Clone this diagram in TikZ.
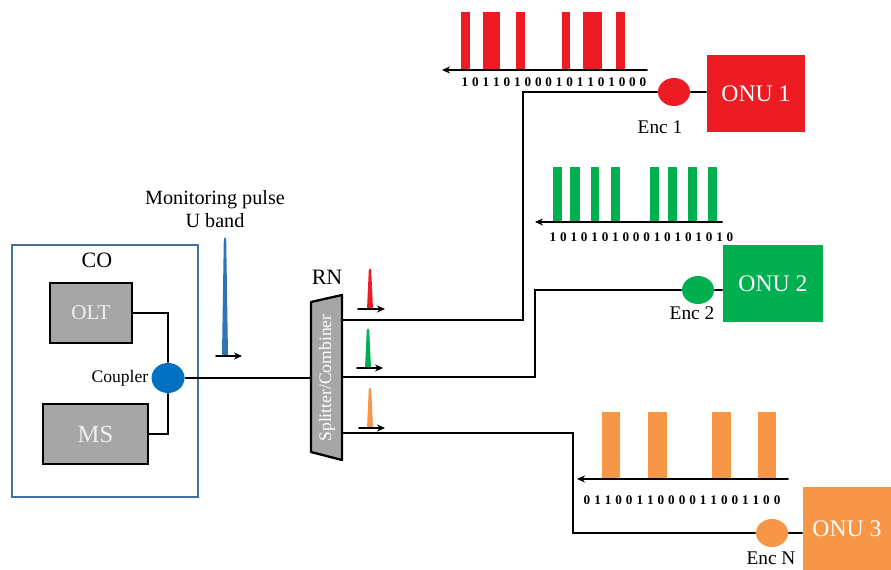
\documentclass[tikz,border=0pt]{standalone}
\usepackage{fontspec}
\setmainfont{Liberation Serif}
\usepackage{tikz}
\usetikzlibrary{arrows.meta,shapes.geometric,positioning}
\usepackage{xcolor}
\definecolor{onured}{RGB}{237,28,36}
\definecolor{onugreen}{RGB}{0,176,80}
\definecolor{onuorange}{RGB}{247,150,70}
\definecolor{cplblue}{RGB}{0,112,192}
\definecolor{pulseblue}{RGB}{46,117,182}
\definecolor{coframe}{RGB}{65,113,156}
\definecolor{boxgray}{RGB}{166,166,166}
\tikzset{
  unit/.style={draw=black,line width=1.3pt,fill=boxgray,text=gray!12,font=\fontsize{12}{14}\selectfont},
  onu/.style={minimum width=1.96cm,minimum height=1.54cm,text=white,font=\fontsize{13.5}{16}\selectfont},
  enc/.style={ellipse,minimum width=0.64cm,minimum height=0.56cm,inner sep=0pt},
  bits/.style={font=\fontsize{7.5}{8}\selectfont\bfseries,inner sep=0pt},
  lbl/.style={font=\fontsize{11}{13}\selectfont,inner sep=1pt}
}
\newcommand\spike[4]{\fill[#4] (#1-3,#3) -- (#1-1.2,#2+2) .. controls (#1-1.2,#2) and (#1+1.2,#2) .. (#1+1.2,#2+2) -- (#1+3,#3) -- cycle;}
\newcommand\bitrow[5]{\foreach \b [count=\i from 0] in {#4} \node[bits] (#5\i) at (#1+\i*#2,#3) {\b};}

\begin{document}
\begin{tikzpicture}[x=0.02cm,y=-0.02cm,>={Stealth[length=1.6mm,width=1.4mm]},line cap=round,line width=0.9pt]
\useasboundingbox (0,0) rectangle (891,570);
\node[draw=coframe,line width=1.2pt,minimum width=3.72cm,minimum height=5.04cm] (co) at (105,371) {};
\node[lbl,font=\fontsize{12.5}{14}\selectfont] (colbl) at (97,260) {CO};
\node[unit,minimum width=1.64cm,minimum height=1.2cm] (olt) at (91,313) {OLT};
\node[unit,minimum width=2.1cm,minimum height=1.2cm,font=\fontsize{14}{16}\selectfont] (ms) at (95.5,434) {MS};
\node[enc,fill=cplblue,minimum width=0.66cm,minimum height=0.6cm] (cpl) at (168,378) {};
\node[lbl,font=\fontsize{10}{12}\selectfont,left=0pt of cpl] (cpllbl) {Coupler};
\draw (olt) -| (cpl);
\draw (ms) -| (cpl);
\node[lbl,align=center,font=\fontsize{11.5}{13}\selectfont] (mon) at (215,209) {Monitoring pulse\\U band};
\spike{225}{237}{355}{pulseblue}
\draw[->,line width=1.1pt] (216,356) -- (242,356);
\draw[fill=boxgray,line width=1.3pt,line join=round] (311,302) -- (342,295) -- (342,460) -- (311,452) -- cycle;
\node[rotate=90,text=white,font=\fontsize{10}{12}\selectfont] (spl) at (327,378) {Splitter/Combiner};
\node[lbl,font=\fontsize{12.5}{14}\selectfont] (rn) at (327,277) {RN};
\coordinate (spin) at (311,378);
\coordinate (s1) at (342,320);
\coordinate (s2) at (342,377);
\coordinate (s3) at (342,433);
\draw (cpl) -- (spin);
\spike{370}{268}{309}{onured}
\draw[->,line width=1.1pt] (358,309) -- (385,309);
\spike{368}{328}{368}{onugreen}
\draw[->,line width=1.1pt] (357,368) -- (383,368);
\spike{370}{387}{428}{onuorange}
\draw[->,line width=1.1pt] (359,428) -- (385,428);
\node[onu,fill=onured] (onu1) at (756,93.5) {ONU 1};
\node[enc,fill=onured] (enc1) at (674,92) {};
\node[lbl] (enc1lbl) at (660,127) {Enc 1};
\coordinate (k1) at (523,320);
\draw (s1) -- (k1) |- (enc1);
\draw (enc1) -- (enc1 -| onu1.west);
\node[onu,fill=onugreen,minimum width=2cm] (onu2) at (773,283.5) {ONU 2};
\node[enc,fill=onugreen] (enc2) at (698,290) {};
\node[lbl] (enc2lbl) at (692,313) {Enc 2};
\coordinate (k2) at (535,377);
\draw (s2) -- (k2) |- (enc2);
\draw (enc2) -- (enc2 -| onu2.west);
\node[onu,fill=onuorange,minimum width=1.76cm,minimum height=1.66cm] (onu3) at (847,528.5) {ONU 3};
\node[enc,fill=onuorange] (encN) at (772,533) {};
\node[lbl] (encNlbl) at (771,558) {Enc N};
\coordinate (k3) at (573,433);
\draw (s3) -- (k3) |- (encN);
\draw (encN) -- (encN -| onu3.west);
\foreach \a/\b in {461/470,483/500,516/525,562/570,583/602,616/625}
  \fill[onured] (\a,12) rectangle (\b,70);
\draw[->,line width=1.1pt] (647,70) -- (442,70);
\bitrow{465}{10.47}{82}{1,0,1,1,0,1,0,0,0,1,0,1,1,0,1,0,0,0}{rb}
\foreach \a/\b in {553/562,570/580,591/599,611/620,650/659,668/677,688/697,708/717}
  \fill[onugreen] (\a,167) rectangle (\b,222);
\draw[->,line width=1.1pt] (722,222) -- (535,222);
\bitrow{553}{10.41}{237}{1,0,1,0,1,0,1,0,0,0,1,0,1,0,1,0,1,0}{gb}
\foreach \a/\b in {602/620,648/667,712/731,758/776}
  \fill[onuorange] (\a,412) rectangle (\b,479);
\draw[->,line width=1.1pt] (788,479) -- (577,479);
\bitrow{587}{10.56}{500}{0,1,1,0,0,1,1,0,0,0,0,1,1,0,0,1,1,0,0}{ob}
\end{tikzpicture}
\end{document}
